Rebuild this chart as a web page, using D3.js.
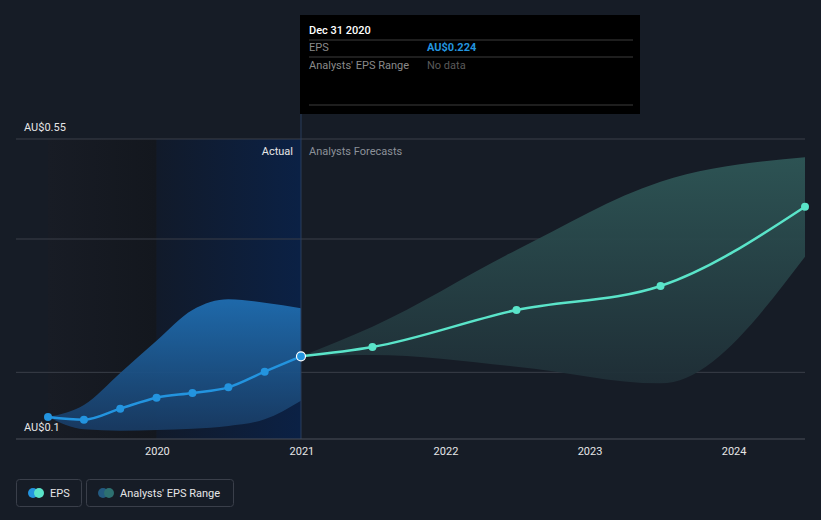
<!DOCTYPE html>
<html><head><meta charset="utf-8">
<script src="https://cdn.jsdelivr.net/npm/d3@7"></script>
<style>
html,body{margin:0;padding:0;background:#161c26;}
svg{display:block;font-family:Roboto,"Noto Sans",sans-serif;}
</style></head>
<body><svg id="c" width="821" height="520"></svg>
<script>
// ---- data ----
const actualDates = ["2019-03-31","2019-06-30","2019-09-30","2019-12-31","2020-03-31","2020-06-30","2020-09-30","2020-12-31"];
const actualEPS   = [0.133, 0.129, 0.1455, 0.162, 0.169, 0.1775, 0.201, 0.224];
const actualLow   = [0.133, 0.1146, 0.1125, 0.1135, 0.1155, 0.1195, 0.1295, 0.1575];
const actualHigh  = [0.133, 0.151, 0.199, 0.2475, 0.2935, 0.3096, 0.3045, 0.296];
const forecastDates = ["2020-12-31","2021-06-30","2022-06-30","2023-06-30","2024-06-30"];
const forecastEPS   = [0.224, 0.238, 0.2935, 0.3295, 0.4485];
const forecastLow   = [0.224, 0.226, 0.2085, 0.1835, 0.3735];
const forecastHigh  = [0.224, 0.2685, 0.3835, 0.486, 0.5225];
const yearTicks = ["2020","2021","2022","2023","2024"];
const yLabels = [0.55, 0.1];
const gridValues = [0.2, 0.4, 0.55];

const parse = d3.timeParse("%Y-%m-%d");
const svg = d3.select("#c");

const x = d3.scaleTime()
  .domain([parse(actualDates[0]), parse(forecastDates[forecastDates.length-1])])
  .range([48, 805]);
const y = d3.scaleLinear().domain([0.1, 0.55]).range([439, 139]);

const defs = svg.append("defs");
const g1 = defs.append("linearGradient").attr("id","pastBg");
g1.append("stop").attr("offset","0%").attr("stop-color","#181c25");
g1.append("stop").attr("offset","100%").attr("stop-color","#13171e");
const g2 = defs.append("linearGradient").attr("id","actBg");
g2.append("stop").attr("offset","0%").attr("stop-color","#111a2a");
g2.append("stop").attr("offset","100%").attr("stop-color","#0b2145");
const g3 = defs.append("linearGradient").attr("id","actBand").attr("x1",0).attr("x2",0).attr("y1",0).attr("y2",1);
g3.append("stop").attr("offset","0%").attr("stop-color","#1f6db0");
g3.append("stop").attr("offset","100%").attr("stop-color","#183a62");
const g4 = defs.append("linearGradient").attr("id","fcBand").attr("x1",0).attr("x2",0).attr("y1",0).attr("y2",1);
g4.append("stop").attr("offset","0%").attr("stop-color","#2e5656");
g4.append("stop").attr("offset","100%").attr("stop-color","#1f2f37");

const xNow = x(parse("2020-12-31"));
const xStartAct = x(parse(actualDates[3]));
const x0 = x(parse(actualDates[0]));

// background regions
svg.append("rect").attr("x", x0).attr("y", 139).attr("width", xStartAct - x0).attr("height", 300).attr("fill","url(#pastBg)");
svg.append("rect").attr("x", xStartAct).attr("y", 139).attr("width", xNow - xStartAct).attr("height", 300).attr("fill","url(#actBg)");

// grid lines
svg.selectAll(".grid").data(gridValues).enter().append("line")
  .attr("x1",16).attr("x2",805).attr("y1",d=>y(d)).attr("y2",d=>y(d))
  .attr("stroke","#3a3f49").attr("stroke-width",1);

// bands
const aData = actualDates.map((d,i)=>({d:parse(d), v:actualEPS[i], lo:actualLow[i], hi:actualHigh[i]}));
const fData = forecastDates.map((d,i)=>({d:parse(d), v:forecastEPS[i], lo:forecastLow[i], hi:forecastHigh[i]}));
const area = d3.area().curve(d3.curveMonotoneX).x(d=>x(d.d)).y0(d=>y(d.lo)).y1(d=>y(d.hi));
svg.append("path").datum(aData).attr("d",area).attr("fill","url(#actBand)").attr("opacity",0.95);
svg.append("path").datum(fData).attr("d",area).attr("fill","url(#fcBand)").attr("opacity",0.95);

// vertical "now" line
svg.append("line").attr("x1",xNow).attr("x2",xNow).attr("y1",110).attr("y2",439).attr("stroke","#2a3e5e").attr("stroke-width",1);

// axis
const xAxis = d3.axisBottom(x)
  .tickValues(yearTicks.map(t=>parse(t+"-01-01")))
  .tickFormat(d3.timeFormat("%Y")).tickSize(0).tickPadding(8);
const ax = svg.append("g").attr("transform","translate(0,439)").call(xAxis);
ax.select(".domain").remove();
ax.selectAll("text").attr("fill","#e6e6e6").attr("font-size",11).attr("font-family","Roboto");
svg.append("line").attr("x1",16).attr("x2",805).attr("y1",439).attr("y2",439).attr("stroke","#4a4f59");

// lines
const line = d3.line().curve(d3.curveMonotoneX).x(d=>x(d.d)).y(d=>y(d.v));
svg.append("path").datum(aData).attr("d",line).attr("fill","none").attr("stroke","#2394df").attr("stroke-width",2.5);
svg.append("path").datum(fData).attr("d",line).attr("fill","none").attr("stroke","#5ae4c9").attr("stroke-width",2.5);

svg.selectAll(".ap").data(aData.slice(0,-1)).enter().append("circle")
  .attr("cx",d=>x(d.d)).attr("cy",d=>y(d.v)).attr("r",4).attr("fill","#2394df");
svg.selectAll(".fp").data(fData.slice(1)).enter().append("circle")
  .attr("cx",d=>x(d.d)).attr("cy",d=>y(d.v)).attr("r",4).attr("fill","#5ae4c9");
svg.append("circle").attr("cx",xNow).attr("cy",y(actualEPS[actualEPS.length-1])).attr("r",4.5)
  .attr("fill","#2394df").attr("stroke","#ffffff").attr("stroke-width",1.2);

// y labels
svg.selectAll(".yl").data(yLabels).enter().append("text")
  .attr("x",24).attr("y",d=>y(d)-8).attr("fill","#e6e6e6").attr("font-size",11).text(d=>"AU$"+d);

// Actual / Forecast labels
svg.append("text").attr("x",xNow-8).attr("y",155).attr("text-anchor","end").attr("fill","#e6e6e6").attr("font-size",11).text("Actual");
svg.append("text").attr("x",xNow+8).attr("y",155).attr("fill","#8c9199").attr("font-size",11).text("Analysts Forecasts");

// tooltip
const tt = svg.append("g");
tt.append("rect").attr("x",300).attr("y",15).attr("width",340).attr("height",99).attr("fill","#000");
tt.append("text").attr("x",309).attr("y",34).attr("fill","#fff").attr("font-size",11).attr("font-weight",500).text("Dec 31 2020");
[40,57,105].forEach(yy=>tt.append("line").attr("x1",309).attr("x2",633).attr("y1",yy).attr("y2",yy).attr("stroke","#3d3d3d"));
tt.append("text").attr("x",309).attr("y",51).attr("fill","#8a8a8a").attr("font-size",11).text("EPS");
tt.append("text").attr("x",427).attr("y",51).attr("fill","#2394df").attr("font-size",11).attr("font-weight",700).text("AU$0.224");
tt.append("text").attr("x",309).attr("y",69).attr("fill","#8a8a8a").attr("font-size",11).text("Analysts' EPS Range");
tt.append("text").attr("x",427).attr("y",69).attr("fill","#5a5a5a").attr("font-size",11).text("No data");

// legend
const lg = svg.append("g");
lg.append("rect").attr("x",16.5).attr("y",479.5).attr("width",65).attr("height",27).attr("rx",3).attr("fill","none").attr("stroke","#3a3f4a");
lg.append("circle").attr("cx",33).attr("cy",493).attr("r",5).attr("fill","#2394df");
lg.append("circle").attr("cx",39).attr("cy",493).attr("r",5).attr("fill","#5ae4c9");
lg.append("text").attr("x",50).attr("y",497).attr("fill","#e6e6e6").attr("font-size",11).text("EPS");
lg.append("rect").attr("x",86.5).attr("y",479.5).attr("width",147).attr("height",27).attr("rx",3).attr("fill","none").attr("stroke","#3a3f4a");
lg.append("circle").attr("cx",103).attr("cy",493).attr("r",5).attr("fill","#235a80");
lg.append("circle").attr("cx",109).attr("cy",493).attr("r",5).attr("fill","#2d7070");
lg.append("text").attr("x",120).attr("y",497).attr("fill","#e6e6e6").attr("font-size",11).text("Analysts' EPS Range");
</script></body></html>
